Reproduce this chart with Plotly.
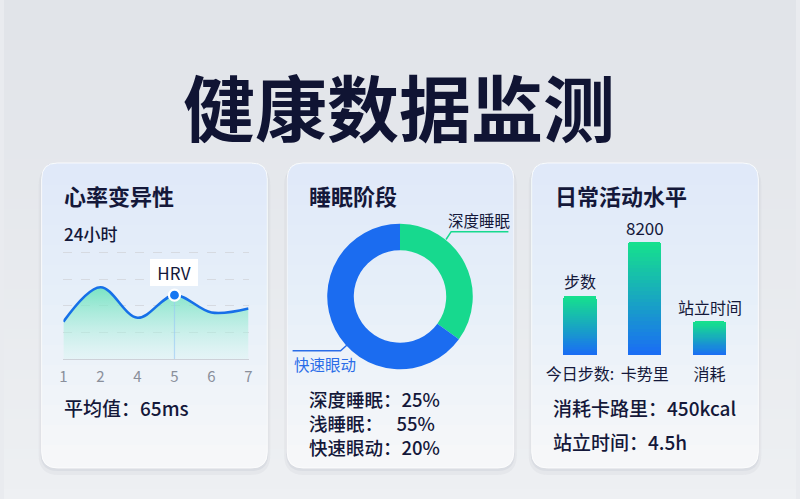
import plotly.graph_objects as go

# ---------------- data ----------------
hrv_hours = ["1", "2", "4", "5", "6", "7"]
hrv_values = [28, 54, 31, 48, 35, 38]
hrv_highlight = "5"

sleep_labels = ["深度睡眠", "快速眼动"]
sleep_share = [35, 65]
sleep_list_labels = ["深度睡眠：", "浅睡眠：\u3000\u00a0", "快速眼动："]
sleep_list_values = ["25%", "55%", "20%"]

act_categories = ["今日步数:", "卡势里", "消耗"]
act_values = [4300, 8200, 2400]
act_top_labels = ["步数", "8200", "站立时间"]

W, H = 800, 499
FONT = "Noto Sans CJK SC"
NAVY = "#14183a"


def px(x):
    return x / W


def py(y):
    return 1 - y / H


def seg_to_path(pts):
    out = []
    for p in pts:
        cmd = p[0]
        coords = p[1:]
        s = cmd
        for i in range(0, len(coords), 2):
            s += f"{px(coords[i]):.5f},{py(coords[i+1]):.5f} "
        out.append(s.strip())
    return " ".join(out) + " Z"


def rr_path(x0, y0, x1, y1, r):
    pts = [("M", x0 + r, y0), ("L", x1 - r, y0), ("Q", x1, y0, x1, y0 + r),
           ("L", x1, y1 - r), ("Q", x1, y1, x1 - r, y1), ("L", x0 + r, y1),
           ("Q", x0, y1, x0, y1 - r), ("L", x0, y0 + r), ("Q", x0, y0, x0 + r, y0)]
    return seg_to_path(pts)


def top_rr_path(x0, y0, x1, yb, r):
    pts = [("M", x0, yb), ("L", x0, y0 + r), ("Q", x0, y0, x0 + r, y0),
           ("L", x1 - r, y0), ("Q", x1, y0, x1, y0 + r), ("L", x1, yb)]
    return seg_to_path(pts)


shapes = []
# page background gradient
top_c = (225, 228, 233)
bot_c = (238, 240, 243)
nb = 50
for i in range(nb):
    t = i / (nb - 1)
    c = tuple(int(top_c[j] + (bot_c[j] - top_c[j]) * t) for j in range(3))
    shapes.append(dict(type="rect", xref="paper", yref="paper", layer="below",
                       x0=0, x1=1, y0=py(i * H / nb + H / nb + 1), y1=py(i * H / nb),
                       line=dict(width=0), fillcolor=f"rgb{c}"))

cards = [(38, 163, 266, 468), (286, 163, 515, 468), (533, 163, 762, 468)]
R = 16
for (x0, y0, x1, y1) in cards:
    shapes.append(dict(type="path", xref="paper", yref="paper", layer="below",
                       path=rr_path(x0 - 3, y0 + 2, x1 + 3, y1 + 7, R + 4),
                       fillcolor="rgba(90,100,125,0.05)", line=dict(width=0)))
    shapes.append(dict(type="path", xref="paper", yref="paper", layer="below",
                       path=rr_path(x0 - 1, y0 + 1, x1 + 1, y1 + 3, R + 1),
                       fillcolor="rgba(90,100,125,0.07)", line=dict(width=0)))
    shapes.append(dict(type="path", xref="paper", yref="paper", layer="below",
                       path=rr_path(x0, y0, x1, y1, R),
                       fillcolor="#f6f7f9", line=dict(width=0)))
    for k in range(14):
        yb = y0 + 22 + k * 20
        shapes.append(dict(type="path", xref="paper", yref="paper", layer="below",
                           path=top_rr_path(x0, y0, x1, yb, R),
                           fillcolor="rgba(208,224,246,0.04)", line=dict(width=0)))
    shapes.append(dict(type="path", xref="paper", yref="paper", layer="below",
                       path=rr_path(x0, y0, x1, y1, R),
                       fillcolor="rgba(0,0,0,0)", line=dict(width=1, color="rgba(255,255,255,0.8)")))

GREEN = "#17d98e"
BLUE = "#1b6cf0"
# pie leader lines
shapes.append(dict(type="path", xref="paper", yref="paper",
                   path=f"M{px(509.5):.5f},{py(231.7):.5f} L{px(451.7):.5f},{py(231.7):.5f} L{px(446.5):.5f},{py(239.5):.5f}",
                   line=dict(color=GREEN, width=1.5)))
shapes.append(dict(type="path", xref="paper", yref="paper",
                   path=f"M{px(291.5):.5f},{py(350.7):.5f} L{px(340):.5f},{py(350.7):.5f} L{px(346.5):.5f},{py(345):.5f}",
                   line=dict(color="#2a6de8", width=1.5)))

fig = go.Figure()

# ---------------- HRV line ----------------
hi = hrv_hours.index(hrv_highlight)
fig.add_trace(go.Scatter(
    x=hrv_hours, y=hrv_values, mode="lines", line=dict(color="#1670e8", width=2.6, shape="spline", smoothing=1.0),
    fill="tozeroy",
    fillgradient=dict(type="vertical", start=0, stop=56,
                      colorscale=[[0, "rgba(215,246,242,0.35)"], [1, "rgba(95,224,182,0.85)"]]),
    xaxis="x", yaxis="y", hoverinfo="skip", showlegend=False))
fig.add_trace(go.Scatter(
    x=[hrv_highlight, hrv_highlight], y=[0, hrv_values[hi]], mode="lines",
    line=dict(color="rgba(150,200,245,0.6)", width=1.2), xaxis="x", yaxis="y",
    hoverinfo="skip", showlegend=False))
fig.add_trace(go.Scatter(
    x=[hrv_highlight], y=[hrv_values[hi]], mode="markers",
    marker=dict(size=11, color="#1677f2", line=dict(color="white", width=2.2)),
    xaxis="x", yaxis="y", hoverinfo="skip", showlegend=False))

# ---------------- Sleep donut ----------------
fig.add_trace(go.Pie(
    labels=sleep_labels, values=sleep_share, hole=0.635, sort=False, direction="clockwise",
    rotation=0, marker=dict(colors=[GREEN, BLUE], line=dict(width=0)),
    textinfo="none", hoverinfo="skip", showlegend=False,
    domain=dict(x=[px(326.5), px(473.5)], y=[py(370), py(223)])))

# ---------------- Activity bars (vertical gradient via stacked slices) ----------------
N = 30
c_bot = (26, 108, 245)
c_top = (22, 226, 140)
for k in range(N):
    t = (k + 0.5) / N
    c = tuple(int(round(c_bot[j] + (c_top[j] - c_bot[j]) * t)) for j in range(3))
    fig.add_trace(go.Bar(
        x=act_categories, y=[v / N for v in act_values],
        marker=dict(color=f"rgb{c}", line=dict(width=0)),
        xaxis="x2", yaxis="y2", hoverinfo="skip", showlegend=False))

annotations = []


def ann(text, x, y, size, color=NAVY, xanchor="left", weight="normal", **kw):
    d = dict(text=text, x=px(x), y=py(y), xref="paper", yref="paper", showarrow=False,
             xanchor=xanchor, yanchor="middle", align="left",
             font=dict(family=FONT, size=size, color=color, weight=weight))
    d.update(kw)
    annotations.append(d)


ann("健康数据监测", 399, 104, 72, color="#101433", xanchor="center", weight="bold")
ann("心率变异性", 59, 195, 22, weight="bold")
ann("睡眠阶段", 306, 195, 22, weight="bold")
ann("日常活动水平", 555, 195, 22, weight="bold")

ann("24小时", 59, 233, 17, weight=500)
ann("平均值：65ms", 59, 407, 19, weight=500)

ann(sleep_labels[0], 446, 220, 15.5)
ann(sleep_labels[1], 291, 364, 15.5, color="#2a6de8")
sleep_rows = [lab + val for lab, val in zip(sleep_list_labels, sleep_list_values)]
ann("<br>".join(sleep_rows), 306, 423, 18.5, weight=500)

ann("消耗卡路里：450kcal", 553, 407, 19, weight=500)
ann("站立时间：4.5h", 553, 441, 19, weight=500)

# HRV tooltip (category index on the x axis)
annotations.append(dict(text="HRV", x=hi, y=hrv_values[hi], xref="x", yref="y",
                        showarrow=False, yshift=23, bgcolor="white", bordercolor="rgba(255,255,255,1)",
                        borderpad=4, width=38, height=17,
                        font=dict(family=FONT, size=17, color=NAVY)))
# bar top labels
for i, (v, lab) in enumerate(zip(act_values, act_top_labels)):
    annotations.append(dict(text=lab, x=i, y=v, xref="x2", yref="y2", showarrow=False,
                            yanchor="middle", yshift=15 if lab != "8200" else 14,
                            font=dict(family=FONT, size=17 if lab == "8200" else 16, color=NAVY)))

fig.update_layout(
    width=W, height=H, margin=dict(l=0, r=0, t=0, b=0),
    paper_bgcolor="#e9ebef", plot_bgcolor="rgba(0,0,0,0)",
    shapes=shapes, annotations=annotations,
    barmode="stack", bargap=0.485, barcornerradius=3,
    hovermode=False,
    xaxis=dict(domain=[px(60), px(247)], type="category", categoryorder="array",
               categoryarray=hrv_hours, range=[0, 5], showgrid=False, showline=True,
               linecolor="#cdd1d8", linewidth=1, ticks="outside", ticklen=4,
               tickcolor="rgba(0,0,0,0)", zeroline=False,
               tickfont=dict(family=FONT, size=15, color="#8a8f9b"), anchor="y"),
    yaxis=dict(domain=[py(359), py(226)], range=[0, 100], tickvals=[20, 40, 60, 80],
               showticklabels=False, showgrid=True, gridcolor="#d6dae1", griddash="dash",
               gridwidth=1, zeroline=False, anchor="x"),
    xaxis2=dict(domain=[px(549), px(747)], type="category", categoryorder="array",
                categoryarray=act_categories, showgrid=False, showline=False, zeroline=False,
                ticks="outside", ticklen=5, tickcolor="rgba(0,0,0,0)",
                tickfont=dict(family=FONT, size=16, color=NAVY), anchor="y2"),
    yaxis2=dict(domain=[py(355), py(217.2)], range=[0, 10000], visible=False, anchor="x2"),
)

fig.write_html("out.html", config={"displayModeBar": False},
               post_script="document.body.style.margin='0';document.body.style.overflow='hidden';document.body.style.background='#e9ebef';")
